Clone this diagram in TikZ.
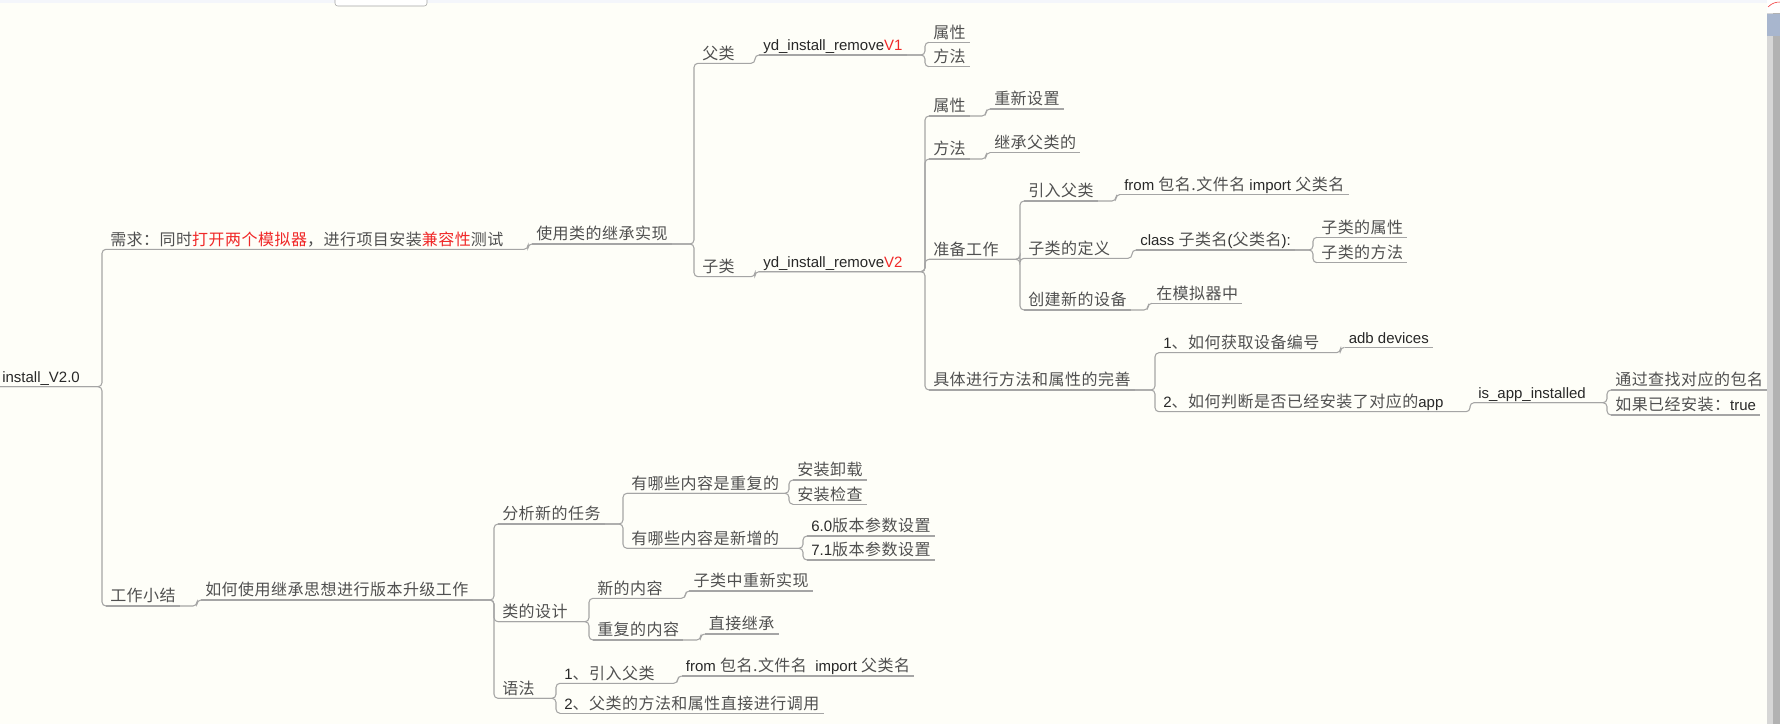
\documentclass[tikz,border=0pt]{standalone}
\usepackage{fontspec}
\setmainfont{Liberation Sans}
\newfontfamily\cjkfont[LetterSpace=3]{Noto Sans CJK SC}
\usepackage{tikz}
\usetikzlibrary{calc}
\usepackage{xcolor}
\definecolor{bgcream}{RGB}{254,254,248}
\definecolor{topstrip}{RGB}{244,246,251}
\definecolor{linegray}{RGB}{165,165,165}
\definecolor{latgray}{RGB}{40,40,40}
\definecolor{cjkgray}{RGB}{80,80,80}
\definecolor{hlred}{RGB}{240,40,40}
\definecolor{sblight}{RGB}{214,214,214}
\definecolor{sbdark}{RGB}{178,178,178}
\definecolor{sbblue}{RGB}{168,182,206}
\newcommand{\zh}[1]{{\cjkfont\fontsize{12}{14}\selectfont\color{cjkgray}#1}}
\newcommand{\hl}[1]{\textcolor{hlred}{#1}}
\tikzset{
  % Mavzu matni (tagiga chiziq chiziladi)
  topic/.style = {anchor=south west, inner xsep=3pt, inner ysep=0pt,
                  text height=9pt, text depth=3pt, text=latgray,
                  font=\fontsize{11.25}{13}\selectfont},
  % Tag chizig'i va bog'lovchi
  uline/.style = {draw=linegray, line width=0.8pt},
  link/.style  = {draw=linegray, line width=0.8pt, rounded corners=3pt},
}

\begin{document}
\begin{tikzpicture}[x=0.75pt, y=-0.75pt]
  % Fon
  \fill[bgcream] (0,0) rectangle (1780,724);
  \useasboundingbox (0,0) rectangle (1780,724);
  \fill[topstrip] (0,0) rectangle (1767,3);
  \draw[linegray, fill=white, rounded corners=2pt] (335,-8) rectangle (427,6);
  % Ildiz
  \node[topic, inner xsep=1.5pt] (root) at (0,386.7) {install\_V2.0};
  % Yuqori tarmoq
  \node[topic] (req)   at (106,249.3) {\zh{需求：同时\hl{打开两个模拟器}，进行项目安装\hl{兼容性}测试}};
  \node[topic] (inh)   at (532,244)   {\zh{使用类的继承实现}};
  \node[topic] (fa)    at (698,63.3)  {\zh{父类}};
  \node[topic] (zi)    at (698,276.7) {\zh{子类}};
  \node[topic] (v1)    at (759,55)    {yd\_install\_remove\hl{V1}};
  \node[topic] (v2)    at (759,271.7) {yd\_install\_remove\hl{V2}};
  \node[topic] (a1)    at (929,42.3)  {\zh{属性}};
  \node[topic] (m1)    at (929,66.7)  {\zh{方法}};
  \node[topic] (a2)    at (929,116)   {\zh{属性}};
  \node[topic] (m2)    at (929,159)   {\zh{方法}};
  \node[topic] (prep)  at (929,259.3) {\zh{准备工作}};
  \node[topic] (impl)  at (929,390)   {\zh{具体进行方法和属性的完善}};
  \node[topic] (a2v)   at (990,109)   {\zh{重新设置}};
  \node[topic] (m2v)   at (990,152.7) {\zh{继承父类的}};
  \node[topic] (imp)   at (1024,201)   {\zh{引入父类}};
  \node[topic] (def)   at (1024,258.3) {\zh{子类的定义}};
  \node[topic] (crt)   at (1024,310)   {\zh{创建新的设备}};
  \node[topic] (impf)  at (1120,194.5) {from \zh{包名.文件名} import \zh{父类名}};
  \node[topic] (cls)   at (1136,250)   {class \zh{子类名}(\zh{父类名}):};
  \node[topic] (clsa)  at (1317,237.3) {\zh{子类的属性}};
  \node[topic] (clsm)  at (1317,262.7) {\zh{子类的方法}};
  \node[topic] (emu)   at (1152,303.3) {\zh{在模拟器中}};
  \node[topic] (q1)    at (1159,352.7) {1\zh{、如何获取设备编号}};
  \node[topic] (q2)    at (1159,411.7) {2\zh{、如何判断是否已经安装了对应的}app};
  \node[topic] (adb)   at (1344.5,347.3) {adb devices};
  \node[topic] (isapp) at (1474,402.7) {is\_app\_installed};
  \node[topic] (find)  at (1611,390)   {\zh{通过查找对应的包名}};
  \node[topic] (tru)   at (1611,415)   {\zh{如果已经安装：}true};
  % Pastki tarmoq
  \node[topic] (sum)   at (106,606)   {\zh{工作小结}};
  \node[topic] (how)   at (201,600)   {\zh{如何使用继承思想进行版本升级工作}};
  \node[topic] (ana)   at (498,524)   {\zh{分析新的任务}};
  \node[topic] (des)   at (498,621.7) {\zh{类的设计}};
  \node[topic] (syn)   at (498,698.3) {\zh{语法}};
  \node[topic] (rep)   at (627,493.3) {\zh{有哪些内容是重复的}};
  \node[topic] (add)   at (627,548.3) {\zh{有哪些内容是新增的}};
  \node[topic] (unin)  at (793,480)   {\zh{安装卸载}};
  \node[topic] (chk)   at (793,504.3) {\zh{安装检查}};
  \node[topic] (p60)   at (807,536)   {6.0\zh{版本参数设置}};
  \node[topic] (p71)   at (807,560)   {7.1\zh{版本参数设置}};
  \node[topic] (newc)  at (593,598.3) {\zh{新的内容}};
  \node[topic] (dup)   at (593,640)   {\zh{重复的内容}};
  \node[topic] (reimp) at (689.4,591) {\zh{子类中重新实现}};
  \node[topic] (inher) at (704.7,634) {\zh{直接继承}};
  \node[topic] (s1)    at (560,683.3) {1\zh{、引入父类}};
  \node[topic] (s2)    at (560,713.3) {2\zh{、父类的方法和属性直接进行调用}};
  \node[topic] (s1f)   at (681.7,676) {from \zh{包名.文件名}\ \ import \zh{父类名}};
  % Tag chiziqlari
  \foreach \n in {root,req,inh,fa,zi,v1,v2,a1,m1,a2,m2,prep,impl,a2v,m2v,
                  imp,def,crt,impf,cls,clsa,clsm,emu,q1,q2,adb,isapp,find,tru,
                  sum,how,ana,des,syn,rep,add,unin,chk,p60,p71,newc,dup,
                  reimp,inher,s1,s2,s1f}
    \draw[uline] (\n.south west) -- (\n.south east);
  % Bog'lovchilar
  \foreach \p/\c in {root/req,root/sum,req/inh,inh/fa,inh/zi,fa/v1,zi/v2,
                     v1/a1,v1/m1,v2/a2,v2/m2,v2/prep,v2/impl,a2/a2v,m2/m2v,
                     prep/imp,prep/def,prep/crt,imp/impf,def/cls,cls/clsa,
                     cls/clsm,crt/emu,impl/q1,impl/q2,q1/adb,q2/isapp,
                     isapp/find,isapp/tru,sum/how,how/ana,how/des,how/syn,
                     ana/rep,ana/add,rep/unin,rep/chk,add/p60,add/p71,
                     des/newc,des/dup,newc/reimp,dup/inher,syn/s1,syn/s2,s1/s1f}
    \draw[link] (\p.south west) -- ($(\p.south west -| \c.south west)+(-4,0)$)
                -- ($(\c.south west)+(-4,0)$) -- (\c.south west);
  % O'ng aylantirish paneli
  \fill[sblight] (1767,0) rectangle (1773,724);
  \fill[sbdark] (1773,0) rectangle (1780,724);
  \fill[sbblue] (1767,14) rectangle (1780,36);
  \fill[white] (1767,0) rectangle (1780,13);
  \draw[hlred] (1768,7) .. controls (1772,3) and (1776,2) .. (1780,2);
\end{tikzpicture}
\end{document}
